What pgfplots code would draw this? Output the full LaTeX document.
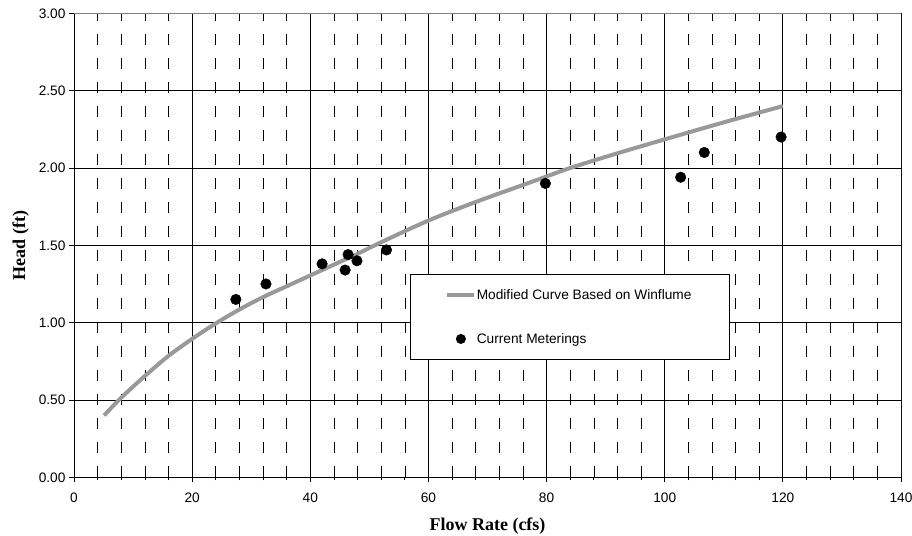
\documentclass[border=0pt]{standalone}
\usepackage{fontspec}
\setmainfont{Liberation Serif}
\setsansfont{Liberation Sans}
\usepackage{pgfplots}
\pgfplotsset{compat=1.18}
\definecolor{curvegray}{RGB}{153,153,153}
\definecolor{framegray}{RGB}{128,128,128}

\begin{document}
\begin{tikzpicture}
\useasboundingbox (-74bp,-58.7bp) rectangle (838bp,477.3bp);
\begin{axis}[
  at={(0,0)}, anchor=south west,
  scale only axis, width=827bp, height=464bp,
  xmin=0, xmax=140, ymin=0, ymax=3,
  xtick={0,20,...,140}, ytick={0,0.5,...,3},
  minor x tick num=4,
  axis x line*=bottom, axis y line*=left,
  axis line style={black, line width=0.75bp, -},
  tick align=outside,
  major tick length=5bp, minor tick length=3bp,
  every tick/.style={black, line width=0.75bp},
  grid=both,
  major grid style={black, line width=0.75bp},
  minor grid style={black, line width=0.6bp, dash pattern=on 11bp off 13bp},
  ticklabel style={font=\sffamily\fontsize{13.7bp}{16bp}\selectfont},
  /pgf/number format/assume math mode=true,
  xticklabel style={yshift=-7bp},
  yticklabel style={/pgf/number format/.cd, fixed, fixed zerofill, precision=2},
  xlabel={Flow Rate (cfs)},
  ylabel={Head (ft)},
  label style={font=\bfseries\fontsize{18bp}{20bp}\selectfont},
  xlabel style={at={(axis description cs:0.5,-0.1136)}, anchor=base},
  ylabel style={at={(axis description cs:-0.0643,0.5)}, anchor=center},
  legend style={at={(0.4063,0.438)}, anchor=north west, draw=black,
    line width=0.75bp, fill=white, inner sep=0pt, row sep=3bp,
    nodes={inner sep=0pt, text height=25bp, text depth=16bp,
      font=\sffamily\fontsize{13.7bp}{16bp}\selectfont}},
  legend cell align=left,
]
\addplot[curvegray, line width=4bp, smooth,
  legend image code/.code={\path[draw=none, fill=none] (-37bp,0bp) -- (29.4bp,0bp);
    \draw[curvegray, line width=4bp] (0bp,0bp) -- (27bp,0bp);}]
coordinates {
  (5.1,0.40) (8,0.515) (12,0.655) (16,0.785) (20,0.895) (24,0.995)
  (28,1.085) (32,1.165) (36,1.235) (40,1.305) (44,1.375) (48,1.445)
  (52,1.52) (60,1.66) (68,1.78) (76,1.89) (80,1.945) (84,2.0)
  (92,2.095) (100,2.185) (110,2.295) (120,2.40)
};
\addlegendentry{\makebox[253bp][l]{Modified Curve Based on Winflume}}

\addplot[only marks, mark=*, mark size=5.3bp, black,
  legend image code/.code={\path[draw=none, fill=none] (-37bp,0bp) -- (29.4bp,0bp);
    \fill[black] (13.5bp,0bp) circle (4.6bp);}]
coordinates {
  (27.4,1.15) (32.5,1.25) (42.0,1.38) (45.9,1.34) (46.4,1.44)
  (47.9,1.40) (52.9,1.47) (79.8,1.90) (102.7,1.94) (106.7,2.10)
  (119.7,2.20)
};
\addlegendentry{Current Meterings}

\draw[framegray, line width=0.75bp] (rel axis cs:0,1) -- (rel axis cs:1,1) -- (rel axis cs:1,0);
\end{axis}
\end{tikzpicture}
\end{document}
